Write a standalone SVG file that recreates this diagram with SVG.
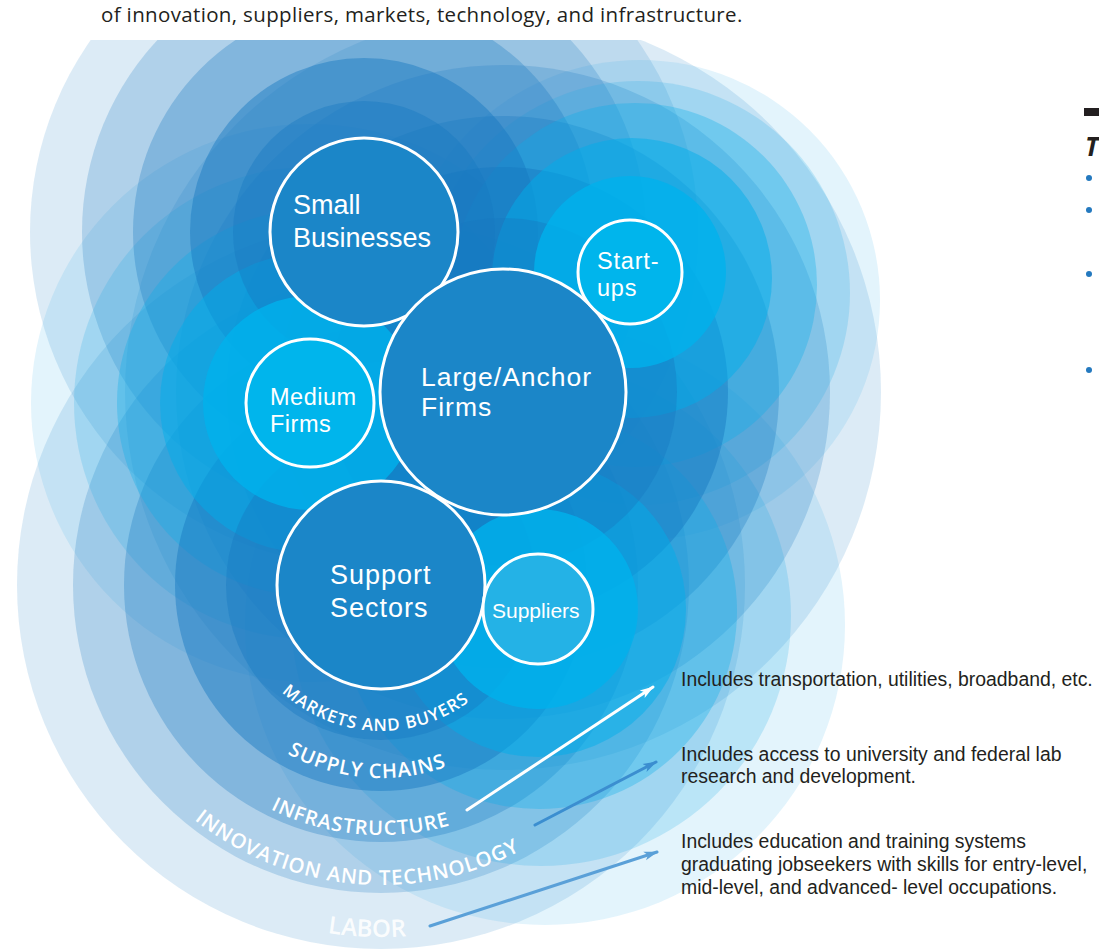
<svg xmlns="http://www.w3.org/2000/svg" width="1099" height="950" viewBox="0 0 1099 950">
<defs>
<style>
.d5{fill:#1677c0;fill-opacity:.15}
.d4{fill:#1677c0;fill-opacity:.22}
.d3{fill:#1677c0;fill-opacity:.3}
.d2{fill:#1677c0;fill-opacity:.45}
.d1{fill:#1677c0;fill-opacity:.4}
.c5{fill:#1aa8e4;fill-opacity:.12}
.c4{fill:#1aa8e4;fill-opacity:.2}
.c3{fill:#0aaee8;fill-opacity:.32}
.c2{fill:#00aeea;fill-opacity:.48}
.c1{fill:#00b2ec;fill-opacity:.8}
.node{stroke:#fff;stroke-width:3}
.dark{fill:#1b86c8}
.cyan{fill:#00b5ec}
.nl{font-family:'Liberation Sans',Arial,sans-serif;fill:#fff}
.rl{font-family:'Open Sans','Liberation Sans',sans-serif;font-weight:600;fill:#fff;text-anchor:middle}
.note{font-family:'Liberation Sans',Arial,sans-serif;font-size:19.4px;fill:#231f20}
.arrow{fill:none;stroke-width:3;stroke-linecap:round}
</style>
<clipPath id="clipTop"><rect x="0" y="40" width="1099" height="910"/></clipPath>
<marker id="ahW" markerUnits="userSpaceOnUse" markerWidth="16" markerHeight="12" refX="13" refY="6" orient="auto"><path d="M0,1.5 L14,6 L0,10.5 L3.5,6 Z" fill="#fff"/></marker>
<marker id="ahB" markerUnits="userSpaceOnUse" markerWidth="16" markerHeight="12" refX="13" refY="6" orient="auto"><path d="M0,1.5 L14,6 L0,10.5 L3.5,6 Z" fill="#3b8ed0"/></marker>
<marker id="ahL" markerUnits="userSpaceOnUse" markerWidth="16" markerHeight="12" refX="13" refY="6" orient="auto"><path d="M0,1.5 L14,6 L0,10.5 L3.5,6 Z" fill="#5aa0d8"/></marker>
<path id="p-mk" d="M235,585 A146,146 0 0 0 527,585"/>
<path id="p-sc" d="M188,585 A193,193 0 0 0 574,585"/>
<path id="p-in" d="M131,585 A250,250 0 0 0 631,585"/>
<path id="p-it" d="M81,585 A300,300 0 0 0 681,585"/>
<path id="p-lb" d="M29,585 A352,352 0 0 0 733,585"/>
</defs>
<rect width="1099" height="950" fill="#fff"/>
<text x="101" y="22" font-family="'Open Sans','Liberation Sans',sans-serif" font-size="20.5" letter-spacing="0.35" fill="#231f20">of innovation, suppliers, markets, technology, and infrastructure.</text>

<g id="halos" clip-path="url(#clipTop)">
<circle class="d5" cx="364" cy="232" r="334"/>
<circle class="d5" cx="503" cy="392" r="378"/>
<circle class="d5" cx="381" cy="585" r="364" fill-opacity=".24"/>
<circle class="c5" cx="310" cy="403" r="279"/>
<circle class="c5" cx="640" cy="300" r="240"/>
<circle class="c5" cx="545" cy="625" r="300"/>
<circle class="d4" cx="364" cy="232" r="282"/>
<circle class="d4" cx="503" cy="392" r="327"/>
<circle class="d4" cx="381" cy="585" r="308"/>
<circle class="c4" cx="310" cy="403" r="236"/>
<circle class="c4" cx="638" cy="293" r="212"/>
<circle class="c4" cx="541" cy="616" r="250"/>
<circle class="d3" cx="364" cy="232" r="231"/>
<circle class="d3" cx="503" cy="392" r="276"/>
<circle class="d3" cx="381" cy="585" r="257"/>
<circle class="c3" cx="310" cy="403" r="193"/>
<circle class="c3" cx="635" cy="285" r="182"/>
<circle class="c3" cx="539" cy="611" r="198"/>
<circle class="d2" cx="364" cy="232" r="174"/>
<circle class="d2" cx="503" cy="392" r="225"/>
<circle class="d2" cx="381" cy="585" r="206"/>
<circle class="c2" cx="310" cy="403" r="150"/>
<circle class="c2" cx="632" cy="278" r="140"/>
<circle class="c2" cx="538" cy="609" r="148" fill-opacity=".35"/>
<circle class="d1" cx="364" cy="232" r="131"/>
<circle class="d1" cx="503" cy="392" r="174"/>
<circle class="d1" cx="381" cy="585" r="155"/>
<circle class="c1" cx="310" cy="403" r="107"/>
<circle class="c1" cx="630" cy="272" r="96"/>
<circle class="c1" cx="538" cy="609" r="100" fill-opacity=".55"/>
</g>

<g id="ring-labels">
<text class="rl" font-size="17" letter-spacing="1" transform="rotate(2.7 381 585)"><textPath href="#p-mk" startOffset="50%">MARKETS AND BUYERS</textPath></text>
<text class="rl" font-size="20" letter-spacing="1" transform="rotate(4.5 381 585)"><textPath href="#p-sc" startOffset="50%">SUPPLY CHAINS</textPath></text>
<text class="rl" font-size="20" letter-spacing="1" transform="rotate(5 381 585)"><textPath href="#p-in" startOffset="50%">INFRASTRUCTURE</textPath></text>
<text class="rl" font-size="20.5" letter-spacing="0.9" transform="rotate(5.4 381 585)"><textPath href="#p-it" startOffset="50%">INNOVATION AND TECHNOLOGY</textPath></text>
<text class="rl" font-size="24" transform="rotate(2.3 381 585)" fill-opacity="0.9"><textPath href="#p-lb" startOffset="50%">LABOR</textPath></text>
</g>

<g id="small-businesses">
<circle class="node dark" cx="364" cy="232" r="94"/>
<text class="nl" font-size="27"><tspan x="293" y="214">Small</tspan><tspan x="293" y="247">Businesses</tspan></text>
</g>
<g id="large-anchor-firms">
<circle class="node dark" cx="503" cy="392" r="123"/>
<text class="nl" font-size="26.5" letter-spacing="1"><tspan x="421" y="386">Large/Anchor</tspan><tspan x="421" y="416">Firms</tspan></text>
</g>
<g id="medium-firms">
<circle class="node cyan" cx="310" cy="403" r="64"/>
<text class="nl" font-size="23.5" letter-spacing="0.5"><tspan x="270" y="405">Medium</tspan><tspan x="270" y="432">Firms</tspan></text>
</g>
<g id="start-ups">
<circle class="node cyan" cx="630" cy="272" r="52"/>
<text class="nl" font-size="23.5" letter-spacing="0.8"><tspan x="597" y="269">Start-</tspan><tspan x="597" y="296">ups</tspan></text>
</g>
<g id="support-sectors">
<circle class="node dark" cx="381" cy="585" r="104"/>
<text class="nl" font-size="27" letter-spacing="1"><tspan x="330" y="584">Support</tspan><tspan x="330" y="617">Sectors</tspan></text>
</g>
<g id="suppliers">
<circle class="node" cx="538" cy="609" r="55" fill="#24b2e6"/>
<text class="nl" font-size="21" x="492" y="618">Suppliers</text>
</g>

<g id="connectors">
<line class="arrow" x1="467" y1="810" x2="653" y2="687" stroke="#fff" marker-end="url(#ahW)"/>
<line class="arrow" x1="535" y1="825" x2="656" y2="762" stroke="#3b8ed0" marker-end="url(#ahB)"/>
<line class="arrow" x1="430" y1="926" x2="657" y2="852" stroke="#5aa0d8" marker-end="url(#ahL)"/>
</g>

<g id="notes">
<text class="note" x="681" y="686">Includes transportation, utilities, broadband, etc.</text>
<text class="note"><tspan x="681" y="761">Includes access to university and federal lab</tspan><tspan x="681" y="783">research and development.</tspan></text>
<text class="note"><tspan x="681" y="848">Includes education and training systems</tspan><tspan x="681" y="871">graduating jobseekers with skills for entry-level,</tspan><tspan x="681" y="894">mid-level, and advanced- level occupations.</tspan></text>
</g>

<g id="sidebar">
<rect x="1084" y="108" width="15" height="8" fill="#231f20"/>
<text x="1085" y="156" font-family="'Open Sans','Liberation Sans',sans-serif" font-size="26" font-weight="700" font-style="italic" fill="#231f20">T</text>
<circle cx="1089" cy="178" r="3" fill="#2479bf"/>
<circle cx="1089" cy="210" r="3" fill="#2479bf"/>
<circle cx="1089" cy="274" r="3" fill="#2479bf"/>
<circle cx="1089" cy="370" r="3" fill="#2479bf"/>
</g>
</svg>
